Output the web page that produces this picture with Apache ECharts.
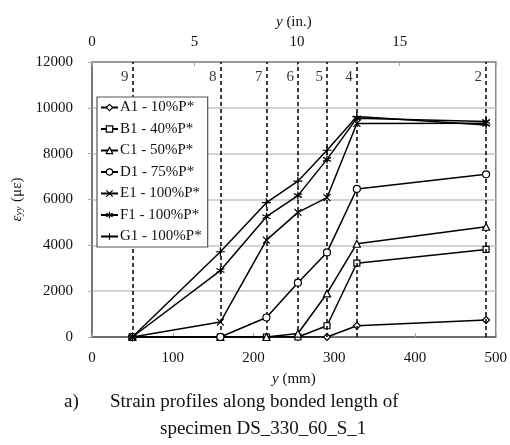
<!DOCTYPE html>
<html>
<head>
<meta charset="utf-8">
<style>html,body{margin:0;padding:0;background:#fff;}#chart{width:510px;height:445px;}</style>
<script src="https://cdn.jsdelivr.net/npm/echarts@6/dist/echarts.min.js"></script>
</head>
<body>
<div id="chart"></div>
<script>
// gauge positions along the bonded length (mm)
var positions = [50, 159, 216, 255, 291, 328, 488];
var gaugeLabels = ['9', '8', '7', '6', '5', '4', '2'];
var seriesNames = ['A1 - 10%P*', 'B1 - 40%P*', 'C1 - 50%P*', 'D1 - 75%P*', 'E1 - 100%P*', 'F1 - 100%P*', 'G1 - 100%P*'];
var A1 = [0, 0, 0, 0, 0, 490, 740];
var B1 = [0, 0, 0, 0, 490, 3220, 3820];
var C1 = [0, 0, 0, 150, 1900, 4070, 4810];
var D1 = [0, 0, 850, 2370, 3690, 6460, 7100];
var E1 = [0, 650, 4230, 5440, 6080, 9320, 9330];
var F1 = [0, 2900, 5250, 6170, 7750, 9550, 9400];
var G1 = [0, 3720, 5860, 6800, 8150, 9620, 9250];
var yTicks = [0, 2000, 4000, 6000, 8000, 10000, 12000];
var xTicksMm = [0, 100, 200, 300, 400, 500];
var xTicksIn = [0, 5, 10, 15];

var allValues = [A1, B1, C1, D1, E1, F1, G1];
var symbols = [
  'diamond', 'rect', 'triangle', 'circle',
  'path://M0,0L10,10M10,0L0,10',
  'path://M5,0L5,10M0,2.5L10,7.5M10,2.5L0,7.5',
  'path://M5,0L5,10M0,5L10,5'
];
var symbolSizes = [7, 6, 7, 7, 7, 8, 9];
var FONT = '"Liberation Serif", "Times New Roman", serif';

function pairs(vals) {
  return positions.map(function (x, i) { return [x, vals[i]]; });
}

var series = seriesNames.map(function (name, k) {
  return {
    name: name,
    type: 'line',
    xAxisIndex: 0,
    data: pairs(allValues[k]),
    symbol: symbols[k],
    symbolSize: symbolSizes[k],
    showAllSymbol: true,
    lineStyle: { color: '#000', width: 1.5 },
    itemStyle: { color: '#fff', borderColor: '#000', borderWidth: 1.2 },
    z: 3 + k,
    animation: false
  };
});

// gauge reference lines and labels
series.push({
  name: 'gauges',
  type: 'scatter',
  xAxisIndex: 0,
  data: positions.map(function (x, i) { return { value: [x, 11350], label: { formatter: gaugeLabels[i] } }; }),
  symbolSize: 0,
  silent: true,
  label: { show: true, position: 'left', distance: 4, color: '#000', fontFamily: FONT, fontSize: 15 },
  markLine: {
    silent: true,
    symbol: 'none',
    label: { show: false },
    lineStyle: { color: '#000', type: [4, 3], width: 1.5 },
    data: positions.map(function (x) { return { xAxis: x }; })
  },
  z: 2,
  animation: false
});

var chart = echarts.init(document.getElementById('chart'), null, { renderer: 'canvas' });
chart.setOption({
  backgroundColor: '#fff',
  animation: false,
  textStyle: { fontFamily: FONT },
  grid: { left: 92, right: 14, top: 62, bottom: 108, show: true, borderColor: '#8a8a8a', borderWidth: 1.5, backgroundColor: 'transparent' },
  legend: {
    data: seriesNames,
    orient: 'vertical',
    left: 97,
    top: 97,
    padding: [3, 6, 3, 3],
    itemGap: 6.5,
    itemWidth: 17,
    itemHeight: 8,
    itemStyle: { borderWidth: 1.2 },
    backgroundColor: '#fff',
    borderColor: '#555',
    borderWidth: 1.2,
    textStyle: { fontFamily: FONT, fontSize: 15, color: '#111', lineHeight: 15, padding: [0, 0, 0, -3] },
    z: 20
  },
  xAxis: [
    {
      type: 'value', position: 'bottom', min: 0, max: 500, interval: 100,
      axisLine: { show: true, onZero: false, lineStyle: { color: '#555', width: 1.5 } },
      axisTick: { show: true, inside: true, length: 4, lineStyle: { color: '#aaa' } },
      axisLabel: { margin: 14, color: '#111', fontFamily: FONT, fontSize: 15,
        customValues: xTicksMm, formatter: function (v) { return String(v); } },
      splitLine: { show: false },
      name: '{i|y} (mm)', nameLocation: 'middle', nameGap: 35,
      nameTextStyle: { fontFamily: FONT, fontSize: 15, color: '#111',
        rich: { i: { fontFamily: FONT, fontSize: 15, fontStyle: 'italic', color: '#111' } } }
    },
    {
      type: 'value', position: 'top', min: 0, max: 500 / 25.4, interval: 5,
      axisLine: { show: true, onZero: false, lineStyle: { color: '#8a8a8a', width: 1.5 } },
      axisTick: { show: true, inside: true, length: 4, lineStyle: { color: '#aaa' } },
      axisLabel: { margin: 12, color: '#111', fontFamily: FONT, fontSize: 15,
        customValues: xTicksIn, formatter: function (v) { return String(v); } },
      splitLine: { show: false },
      name: '{i|y} (in.)', nameLocation: 'middle', nameGap: 32,
      nameTextStyle: { fontFamily: FONT, fontSize: 15, color: '#111',
        rich: { i: { fontFamily: FONT, fontSize: 15, fontStyle: 'italic', color: '#111' } } }
    }
  ],
  yAxis: {
    type: 'value', min: 0, max: 12000, interval: 2000,
    axisLine: { show: true, lineStyle: { color: '#666', width: 1.5 } },
    axisTick: { show: true, inside: false, length: 4, lineStyle: { color: '#aaa' } },
    axisLabel: { margin: 19, color: '#111', fontFamily: FONT, fontSize: 15, customValues: yTicks,
      formatter: function (v) { return String(v); } },
    splitLine: { show: true, lineStyle: { color: '#c4c4c4', width: 1.5 } },
    name: '{i|ε}{sub|yy} (με)', nameLocation: 'middle', nameGap: 60, nameRotate: 90,
    nameTextStyle: { fontFamily: FONT, fontSize: 15, color: '#111',
      rich: {
        i: { fontFamily: FONT, fontSize: 15, fontStyle: 'italic', color: '#111' },
        sub: { fontFamily: FONT, fontSize: 10, fontStyle: 'italic', color: '#111', verticalAlign: 'bottom', padding: [6, 1, 0, 0] }
      } }
  },
  graphic: [
    { type: 'text', left: 64, top: 393, style: { text: 'a)', font: '19px ' + FONT, fill: '#111' } },
    { type: 'text', left: 110, top: 393, style: { text: 'Strain profiles along bonded length of', font: '19px ' + FONT, fill: '#111' } },
    { type: 'text', left: 160, top: 420, style: { text: 'specimen DS_330_60_S_1', font: '19px ' + FONT, fill: '#111' } }
  ],
  series: series
});
</script>
</body>
</html>
